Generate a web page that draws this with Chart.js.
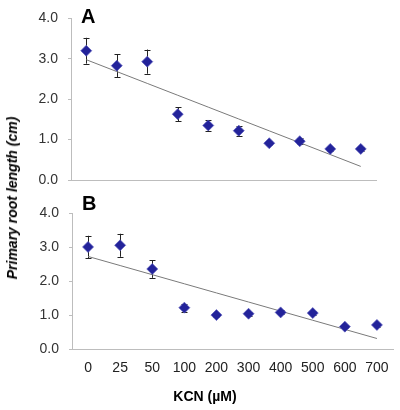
<!DOCTYPE html>
<html>
<head>
<meta charset="utf-8">
<script src="https://cdn.jsdelivr.net/npm/chart.js@4"></script>
<style>
  body { margin: 0; background: #fff; font-family: "Liberation Sans", Arial, sans-serif; }
  #wrap { position: relative; width: 400px; height: 410px; }
  .cv { position: absolute; left: 0; }
  .panel { position: absolute; font-weight: bold; font-size: 20px; color: #000; }
  #ytitle { position: absolute; left: 12px; top: 198px; transform: translate(-50%, -50%) rotate(-90deg);
            white-space: nowrap; font-weight: bold; font-style: italic; font-size: 14px; color: #000; }
  #xtitle { position: absolute; left: 205px; top: 396px; transform: translate(-50%, -50%);
            white-space: nowrap; font-weight: bold; font-size: 14px; color: #000; }
</style>
</head>
<body>
<div id="wrap">
  <canvas id="chartA" class="cv" style="top:0px" width="400" height="200"></canvas>
  <canvas id="chartB" class="cv" style="top:195px" width="400" height="188"></canvas>
  <div class="panel" style="left:81px; top:5px">A</div>
  <div class="panel" style="left:82px; top:192px">B</div>
  <div id="ytitle">Primary root length (cm)</div>
  <div id="xtitle">KCN (µM)</div>
</div>
<script>
// KCN concentrations (µM)
const categories = ["0", "25", "50", "100", "200", "300", "400", "500", "600", "700"];

// panel A
const lengthA = [3.2, 2.83, 2.93, 1.63, 1.35, 1.22, 0.91, 0.96, 0.77, 0.77];
const errA    = [0.32, 0.28, 0.3, 0.17, 0.13, 0.12, 0.05, 0.08, 0.05, 0.05];

// panel B
const lengthB = [3.01, 3.06, 2.36, 1.22, 1.0, 1.04, 1.08, 1.06, 0.66, 0.71];
const errB    = [0.33, 0.34, 0.26, 0.12, 0.06, 0.06, 0.06, 0.07, 0.05, 0.05];

const yTicks = [0, 1, 2, 3, 4];

// linear trendline like Excel (over category index)
function trend(vals) {
    const n = vals.length;
    const xs = vals.map((v, i) => i + 1);
    const mx = xs.reduce((a, b) => a + b, 0) / n;
    const my = vals.reduce((a, b) => a + b, 0) / n;
    let sxy = 0, sxx = 0;
    xs.forEach((x, i) => { sxy += (x - mx) * (vals[i] - my); sxx += (x - mx) * (x - mx); });
    const slope = sxy / sxx;
    return xs.map(x => my + slope * (x - mx));
}

// error bars drawn through the chart scales
const errorBars = {
    id: "errorBars",
    beforeDatasetsDraw(chart, args, opts) {
        const { ctx, scales: { x, y } } = chart;
        const vals = chart.data.datasets[0].data;
        ctx.save();
        ctx.strokeStyle = "#222";
        ctx.lineWidth = 1;
        vals.forEach((v, i) => {
            const e = opts.errors[i];
            const px = Math.round(x.getPixelForValue(i)) + 0.5;
            const top = y.getPixelForValue(v + e);
            const bot = y.getPixelForValue(v - e);
            ctx.beginPath();
            ctx.moveTo(px, top); ctx.lineTo(px, bot);
            ctx.moveTo(px - 3, Math.round(top) + 0.5); ctx.lineTo(px + 3, Math.round(top) + 0.5);
            ctx.moveTo(px - 3, Math.round(bot) + 0.5); ctx.lineTo(px + 3, Math.round(bot) + 0.5);
            ctx.stroke();
        });
        ctx.restore();
    }
};

const tickFont = { family: "'Liberation Sans', Arial, sans-serif", size: 14 };

function makeChart(id, values, errors, opt) {
    return new Chart(document.getElementById(id), {
        type: "line",
        data: {
            labels: categories,
            datasets: [{
                data: values,
                showLine: false,
                pointStyle: "rectRot",
                pointRadius: 5.5,
                pointBackgroundColor: "#23239a",
                pointBorderColor: "rgba(90,90,190,0.7)",
                pointBorderWidth: 1
            }, {
                data: trend(values),
                borderColor: "#7a7a7a",
                borderWidth: 1,
                pointRadius: 0,
                fill: false
            }]
        },
        options: {
            responsive: false,
            animation: false,
            layout: { padding: opt.padding },
            plugins: {
                legend: { display: false },
                tooltip: { enabled: false },
                errorBars: { errors: errors }
            },
            scales: {
                x: {
                    type: "category",
                    offset: true,
                    grid: { display: false, drawTicks: false },
                    border: { display: true, color: "#bdbdbd", width: 1 },
                    ticks: { display: opt.showX, color: "#222", font: tickFont, padding: 11, maxRotation: 0, autoSkip: false },
                    afterFit: s => { s.height = opt.xHeight; }
                },
                y: {
                    min: 0,
                    max: 4,
                    afterBuildTicks: s => { s.ticks = yTicks.map(v => ({ value: v })); },
                    grid: { drawOnChartArea: false, drawTicks: true, tickLength: 3, color: "#bdbdbd" },
                    border: { display: true, color: "#bdbdbd", width: 1 },
                    ticks: { color: "#333", font: tickFont, padding: 10, callback: v => Number(v).toFixed(1) },
                    afterFit: s => { s.width = opt.yWidth; }
                }
            }
        },
        plugins: [errorBars]
    });
}

makeChart("chartA", lengthA, errA, { padding: { top: 8, right: 24, bottom: 20, left: 0 }, showX: false, xHeight: 0, yWidth: 71 });
makeChart("chartB", lengthB, errB, { padding: { top: 13, right: 7, bottom: 1, left: 0 }, showX: true, xHeight: 33, yWidth: 72 });
</script>
</body>
</html>
